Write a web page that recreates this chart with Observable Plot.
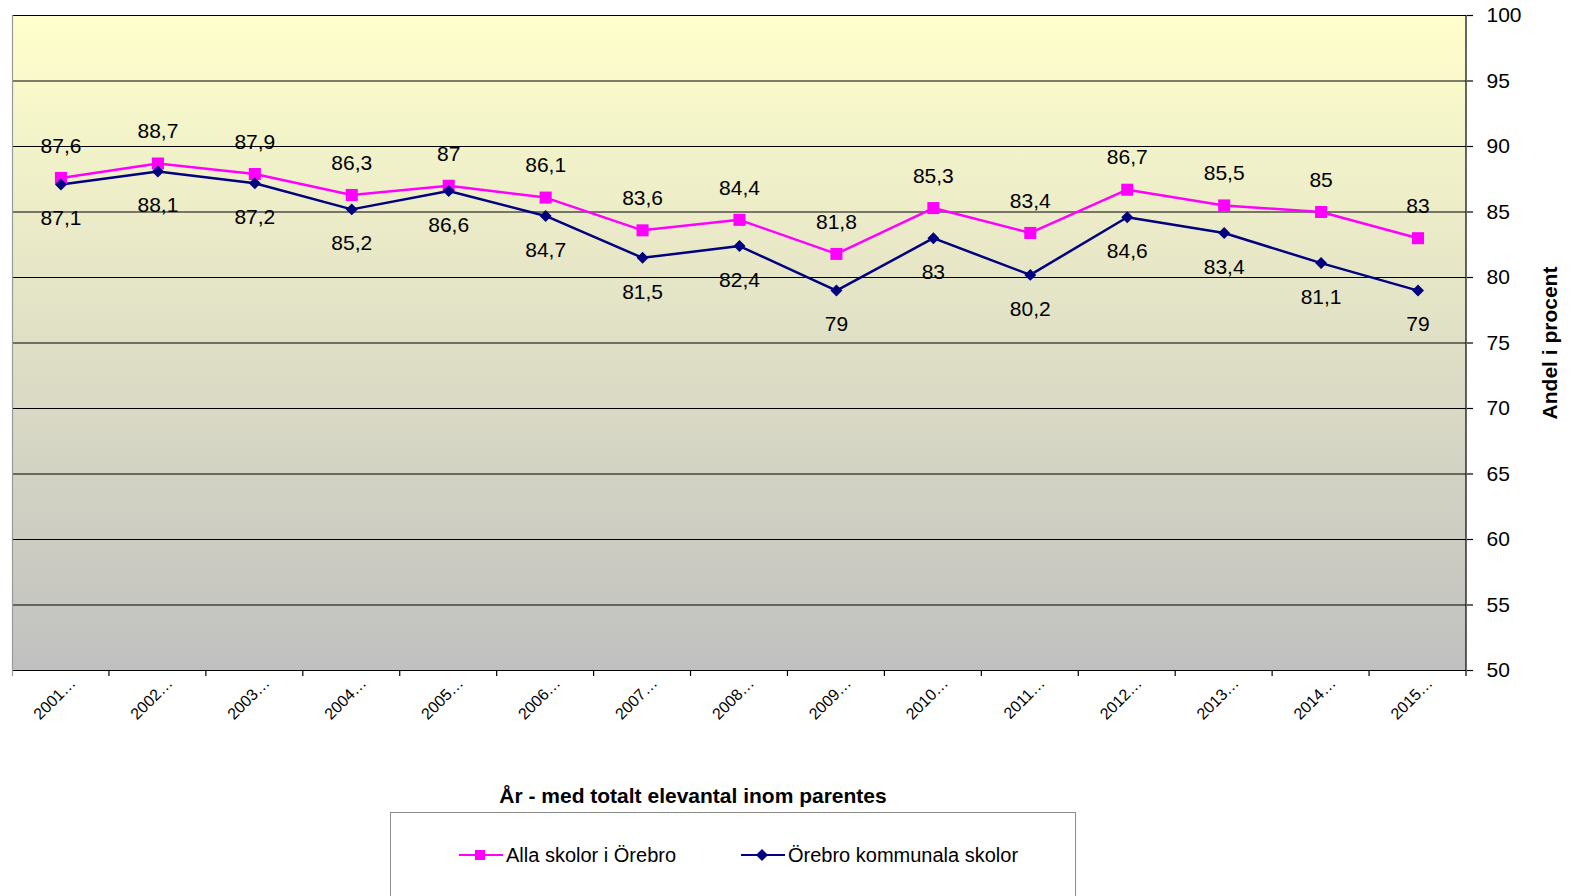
<!DOCTYPE html>
<html>
<head>
<meta charset="utf-8">
<script src="https://cdn.jsdelivr.net/npm/d3@7"></script>
<script src="https://cdn.jsdelivr.net/npm/@observablehq/plot@0.6"></script>
<style>
  body { margin: 0; background: #fff; font-family: "Liberation Sans", Arial, sans-serif; }
  #wrap { position: relative; width: 1572px; height: 896px; overflow: hidden; }
  #chart { position: absolute; left: 0; top: 0; }
  #title { position: absolute; left: 393px; width: 600px; top: 784px; text-align: center; font-weight: bold; font-size: 21px; color: #000; }
  #legend { position: absolute; left: 390px; top: 812px; width: 684px; height: 120px; border: 1px solid #8c8c8c; background: #fff; }
  .item { position: absolute; top: 30px; height: 24px; display: flex; align-items: center; font-size: 20px; color: #000; white-space: nowrap; }
  .item svg { margin-right: 3px; }
</style>
</head>
<body>
<div id="wrap">
  <div id="chart"></div>
  <div id="title">År - med totalt elevantal inom parentes</div>
  <div id="legend"></div>
</div>
<script>
// ---- Data ----
const tickLabels = ["2001…", "2002…", "2003…", "2004…", "2005…", "2006…", "2007…", "2008…", "2009…", "2010…", "2011…", "2012…", "2013…", "2014…", "2015…"];
const allaSkolor = [87.6, 88.7, 87.9, 86.3, 87, 86.1, 83.6, 84.4, 81.8, 85.3, 83.4, 86.7, 85.5, 85, 83];
const kommunalaSkolor = [87.1, 88.1, 87.2, 85.2, 86.6, 84.7, 81.5, 82.4, 79, 83, 80.2, 84.6, 83.4, 81.1, 79];
const yTicks = [50, 55, 60, 65, 70, 75, 80, 85, 90, 95, 100];
const seriesNames = ["Alla skolor i Örebro", "Örebro kommunala skolor"];
const seriesColors = ["#FF00FF", "#000080"];

const rows = tickLabels.map((t, i) => ({ year: t, alla: allaSkolor[i], komm: kommunalaSkolor[i] }));
const fmt = v => String(v).replace(".", ",");
const NS = "http://www.w3.org/2000/svg";

function background(index, scales, values, dims) {
  const { width, height, marginLeft: ml, marginRight: mr, marginTop: mt, marginBottom: mb } = dims;
  const g = document.createElementNS(NS, "g");
  g.innerHTML = `<defs><linearGradient id="bgGrad" x1="0" y1="0" x2="0" y2="1">
      <stop offset="0" stop-color="#FFFFCC"/><stop offset="1" stop-color="#C0C0C0"/></linearGradient></defs>
    <rect x="${ml}" y="${mt}" width="${width - ml - mr}" height="${height - mt - mb}" fill="url(#bgGrad)"/>`;
  return g;
}

function frameLines(index, scales, values, dims) {
  const { width, height, marginLeft: ml, marginRight: mr, marginTop: mt, marginBottom: mb } = dims;
  const g = document.createElementNS(NS, "g");
  const right = width - mr, bottom = height - mb;
  const n = tickLabels.length;
  const step = (right - ml) / n;
  let s = `<line x1="${ml + 0.5}" x2="${ml + 0.5}" y1="${mt}" y2="${bottom + 6}" stroke="#999" stroke-width="1.2"/>`;
  s += `<line x1="${right}" x2="${right}" y1="${mt}" y2="${bottom}" stroke="#000" stroke-width="1.2"/>`;
  for (let i = 1; i <= n; i++) {
    const x = ml + i * step;
    s += `<line x1="${x}" x2="${x}" y1="${bottom}" y2="${bottom + 6}" stroke="#000" stroke-width="1.2"/>`;
  }
  g.innerHTML = s;
  return g;
}

const chart = Plot.plot({
  width: 1572,
  height: 772,
  marginLeft: 12,
  marginRight: 106,
  marginTop: 15,
  marginBottom: 102,
  style: { fontFamily: "'Liberation Sans', Arial, sans-serif", background: "transparent", overflow: "visible", color: "#000" },
  x: { type: "band", domain: tickLabels, padding: 0, round: false, label: null },
  y: { domain: [50, 100], label: null },
  marks: [
    background,
    Plot.ruleY(yTicks, { y: d => d, stroke: "#000", strokeWidth: 1.2 }),
    frameLines,
    Plot.axisY(yTicks, { anchor: "right", tickSize: 6, tickPadding: 14, fontSize: 21, label: null, stroke: "#000", strokeOpacity: 1, strokeWidth: 1.2, tickFormat: d => String(d) }),
    Plot.axisX({ tickSize: 0, tickRotate: -45, tickPadding: 10, dx: 12, fontSize: 16, label: null }),
    Plot.line(rows, { x: "year", y: "alla", stroke: seriesColors[0], strokeWidth: 2.5 }),
    Plot.line(rows, { x: "year", y: "komm", stroke: seriesColors[1], strokeWidth: 2.5 }),
    Plot.dot(rows, { x: "year", y: "alla", symbol: "square", r: 6.8, fill: seriesColors[0] }),
    Plot.dot(rows, { x: "year", y: "komm", symbol: "diamond2", r: 5.4, fill: seriesColors[1] }),
    Plot.text(rows, { x: "year", y: "alla", text: d => fmt(d.alla), dy: -32, fontSize: 21, fill: "#000" }),
    Plot.text(rows, { x: "year", y: "komm", text: d => fmt(d.komm), dy: 34, fontSize: 21, fill: "#000" }),
    Plot.text(["Andel i procent"], { text: d => d, frameAnchor: "right", textAnchor: "middle", dx: 84, rotate: -90, fontWeight: "bold", fontSize: 21, fill: "#000" })
  ]
});
document.getElementById("chart").appendChild(chart);

// ---- Legend ----
const legend = document.getElementById("legend");
const lefts = [68, 350];
seriesNames.forEach((name, i) => {
  const item = document.createElement("div");
  item.className = "item";
  item.style.left = lefts[i] + "px";
  const marker = i === 0
    ? `<rect x="16" y="7" width="10" height="10" fill="${seriesColors[i]}"/>`
    : `<path d="M21 6 L27 12 L21 18 L15 12 Z" fill="${seriesColors[i]}"/>`;
  item.innerHTML = `<svg width="44" height="24"><line x1="0" x2="44" y1="12" y2="12" stroke="${seriesColors[i]}" stroke-width="2"/>${marker}</svg><span>${name}</span>`;
  legend.appendChild(item);
});
</script>
</body>
</html>
